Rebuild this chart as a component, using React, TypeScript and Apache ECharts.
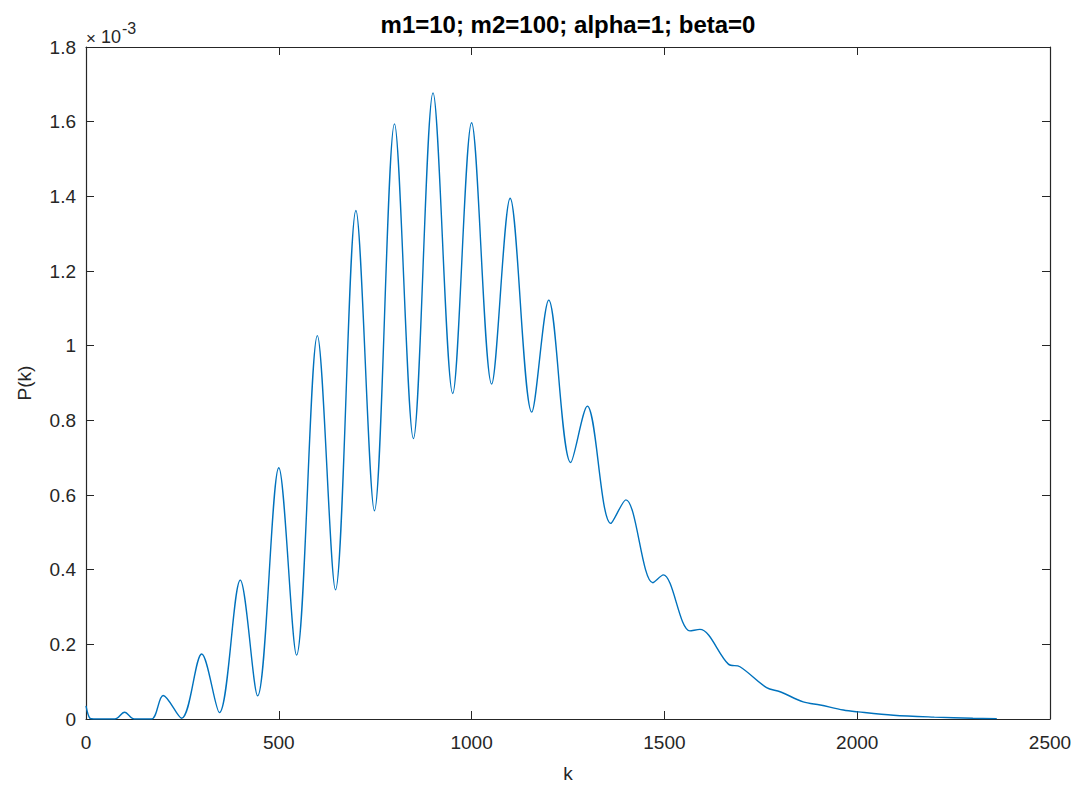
import React, { useEffect, useRef } from "react";
import * as echarts from "echarts";

// k positions (peaks, troughs and other read points) and P(k) in units of 1e-3
const kValues = [
  0, 10, 20, 75, 100, 125, 170, 200, 248, 300, 346, 400, 445, 500, 546, 600,
  647, 700, 748, 800, 849, 900, 951, 1000, 1052, 1100, 1156, 1200, 1257, 1300,
  1361, 1400, 1470, 1497, 1566, 1592, 1666, 1696, 1765, 1800, 1860, 1904, 1964,
  2003, 2094, 2200, 2300, 2362,
];
const pValues = [
  0.035, 0.002, 0, 0, 0.018, 0, 0, 0.063, 0.002, 0.174, 0.017, 0.372, 0.062,
  0.673, 0.171, 1.027, 0.346, 1.362, 0.558, 1.594, 0.751, 1.677, 0.872, 1.597,
  0.897, 1.395, 0.822, 1.122, 0.687, 0.838, 0.524, 0.587, 0.365, 0.386, 0.236,
  0.24, 0.147, 0.14, 0.084, 0.073, 0.046, 0.0375, 0.024, 0.019, 0.01, 0.005,
  0.002, 0.001,
];
const xTicks = [0, 500, 1000, 1500, 2000, 2500];
const yTicks = [0, 0.2, 0.4, 0.6, 0.8, 1, 1.2, 1.4, 1.6, 1.8];

const titleText = "m1=10; m2=100; alpha=1; beta=0";
const xLabel = "k";
const yLabel = "P(k)";

const AXIS = "#262626";
const FONT = "'Liberation Sans', Arial, Helvetica, sans-serif";

export default function App() {
  const ref = useRef<HTMLDivElement>(null);
  useEffect(() => {
    if (!ref.current) return;
    const chart = echarts.init(ref.current, null, { renderer: "svg" });
    const G = { left: 86, top: 47, width: 964, height: 672 };
    const tick = { show: true, inside: true, length: 8, lineStyle: { color: AXIS, width: 1 } };
    const line = { show: true, onZero: false, lineStyle: { color: AXIS, width: 1.2 } };
    chart.setOption({
      animation: false,
      backgroundColor: "#ffffff",
      grid: { ...G, containLabel: false },
      xAxis: [
        {
          type: "value",
          min: xTicks[0],
          max: xTicks[xTicks.length - 1],
          interval: xTicks[1] - xTicks[0],
          position: "bottom",
          axisLine: line,
          axisTick: tick,
          splitLine: { show: false },
          axisLabel: {
            color: AXIS,
            fontFamily: FONT,
            fontSize: 19,
            margin: 14,
            formatter: (v: number) => String(v),
          },
        },
        {
          type: "value",
          min: xTicks[0],
          max: xTicks[xTicks.length - 1],
          interval: xTicks[1] - xTicks[0],
          position: "top",
          axisLine: line,
          axisTick: tick,
          splitLine: { show: false },
          axisLabel: { show: false },
        },
      ],
      yAxis: [
        {
          type: "value",
          min: yTicks[0],
          max: yTicks[yTicks.length - 1],
          interval: 0.2,
          position: "left",
          axisLine: line,
          axisTick: tick,
          splitLine: { show: false },
          axisLabel: {
            color: AXIS,
            fontFamily: FONT,
            fontSize: 19,
            margin: 10,
            formatter: (v: number) => String(+v.toFixed(1)),
          },
        },
        {
          type: "value",
          min: yTicks[0],
          max: yTicks[yTicks.length - 1],
          interval: 0.2,
          position: "right",
          axisLine: line,
          axisTick: tick,
          splitLine: { show: false },
          axisLabel: { show: false },
        },
      ],
      series: [
        {
          type: "line",
          data: kValues.map((k, i) => [k, pValues[i]]),
          xAxisIndex: 0,
          yAxisIndex: 0,
          smooth: 0.33,
          showSymbol: false,
          lineStyle: { color: "#0072BD", width: 1.4 },
          clip: true,
        },
      ],
      graphic: [
        {
          type: "text",
          x: 568,
          y: 24,
          style: {
            text: titleText,
            font: `bold 24px ${FONT}`,
            fill: "#000000",
            align: "center",
            verticalAlign: "middle",
          },
        },
        {
          type: "text",
          x: 24,
          y: 383,
          rotation: Math.PI / 2,
          style: {
            text: yLabel,
            font: `19px ${FONT}`,
            fill: AXIS,
            align: "center",
            verticalAlign: "middle",
          },
        },
        {
          type: "text",
          x: 568,
          y: 773,
          style: {
            text: xLabel,
            font: `19px ${FONT}`,
            fill: AXIS,
            align: "center",
            verticalAlign: "middle",
          },
        },
        {
          type: "text",
          x: 86,
          y: 38,
          style: {
            text: "×",
            font: `17px ${FONT}`,
            fill: AXIS,
            align: "left",
            verticalAlign: "middle",
          },
        },
        {
          type: "text",
          x: 101,
          y: 37,
          style: {
            text: "10",
            font: `18px ${FONT}`,
            fill: AXIS,
            align: "left",
            verticalAlign: "middle",
          },
        },
        {
          type: "text",
          x: 122,
          y: 28,
          style: {
            text: "-3",
            font: `16px ${FONT}`,
            fill: AXIS,
            align: "left",
            verticalAlign: "middle",
          },
        },
      ],
    });
    return () => chart.dispose();
  }, []);
  return (
    <div
      ref={ref}
      style={{ position: "fixed", left: 0, top: 0, width: 1078, height: 785 }}
    />
  );
}
